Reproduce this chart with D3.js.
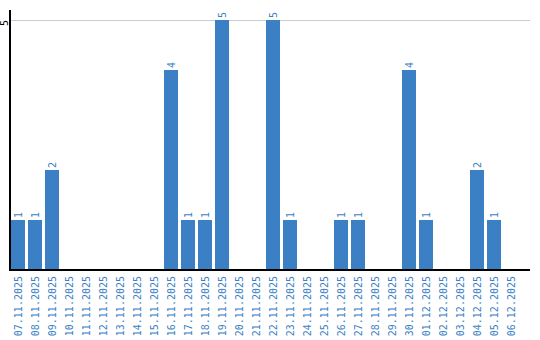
<!DOCTYPE html>
<html>
<head>
<meta charset="utf-8">
<script src="https://cdn.jsdelivr.net/npm/d3@7"></script>
<style>
body { margin: 0; background: #fff; }
text { font-family: "DejaVu Sans Mono", monospace; font-size: 10px; }
</style>
</head>
<body>
<svg id="chart" width="540" height="340"></svg>
<script>
var dates = ["07.11.2025", "08.11.2025", "09.11.2025", "10.11.2025", "11.11.2025", "12.11.2025", "13.11.2025", "14.11.2025", "15.11.2025", "16.11.2025", "17.11.2025", "18.11.2025", "19.11.2025", "20.11.2025", "21.11.2025", "22.11.2025", "23.11.2025", "24.11.2025", "25.11.2025", "26.11.2025", "27.11.2025", "28.11.2025", "29.11.2025", "30.11.2025", "01.12.2025", "02.12.2025", "03.12.2025", "04.12.2025", "05.12.2025", "06.12.2025"];
var counts = [1, 1, 2, 0, 0, 0, 0, 0, 0, 4, 1, 1, 5, 0, 0, 5, 1, 0, 0, 1, 1, 0, 0, 4, 1, 0, 0, 2, 1, 0];
var yTicks = [5];

var svg = d3.select("#chart");
var blue = "#3b7fc4";
var rows = dates.map(function (d, i) { return { date: d, n: counts[i] }; });
var x = d3.scaleBand().domain(dates).range([10, 519]).paddingInner(3 / 17).paddingOuter(1 / 17);
var y = d3.scaleLinear().domain([0, 5]).range([270, 20]);

// grid line
svg.selectAll("line.grid").data(yTicks).enter().append("line").attr("class", "grid").attr("x1", 10).attr("x2", 530).attr("y1", function (d) { return y(d); }).attr("y2", function (d) { return y(d); }).attr("stroke", "#cccccc").attr("stroke-width", 1).attr("shape-rendering", "crispEdges");

// bars
svg.selectAll("rect.bar").data(rows).enter().append("rect").attr("class", "bar").attr("x", function (d) { return x(d.date); }).attr("y", function (d) { return y(d.n); }).attr("width", x.bandwidth()).attr("height", function (d) { return y(0) - y(d.n); }).attr("fill", blue).attr("shape-rendering", "crispEdges");

// value labels
svg.selectAll("text.val").data(rows.filter(function (d) { return d.n > 0; })).enter().append("text").attr("class", "val").attr("text-anchor", "start").attr("fill", blue).attr("transform", function (d) {
	return "translate(" + (x(d.date) + x.bandwidth() / 2 + 4) + " " + (y(d.n) - 2) + ") rotate(-90)";
}).text(function (d) { return d.n; });

// axes lines
svg.append("line").attr("x1", 10).attr("x2", 10).attr("y1", 10).attr("y2", 271).attr("stroke", "#000").attr("stroke-width", 2);
svg.append("line").attr("x1", 9).attr("x2", 530).attr("y1", 270).attr("y2", 270).attr("stroke", "#000").attr("stroke-width", 2);

// y tick labels
svg.selectAll("text.ytick").data(yTicks).enter().append("text").attr("class", "ytick").attr("text-anchor", "end").attr("fill", "#000").attr("transform", function (d) { return "translate(8 " + y(d) + ") rotate(-90)"; }).text(function (d) { return d; });

// x tick labels
svg.selectAll("text.xtick").data(dates).enter().append("text").attr("class", "xtick").attr("text-anchor", "end").attr("fill", blue).attr("transform", function (d) { return "translate(" + (x(d) + x.bandwidth() / 2 + 4) + " 276) rotate(-90)"; }).text(function (d) { return d; });
</script>
</body>
</html>
